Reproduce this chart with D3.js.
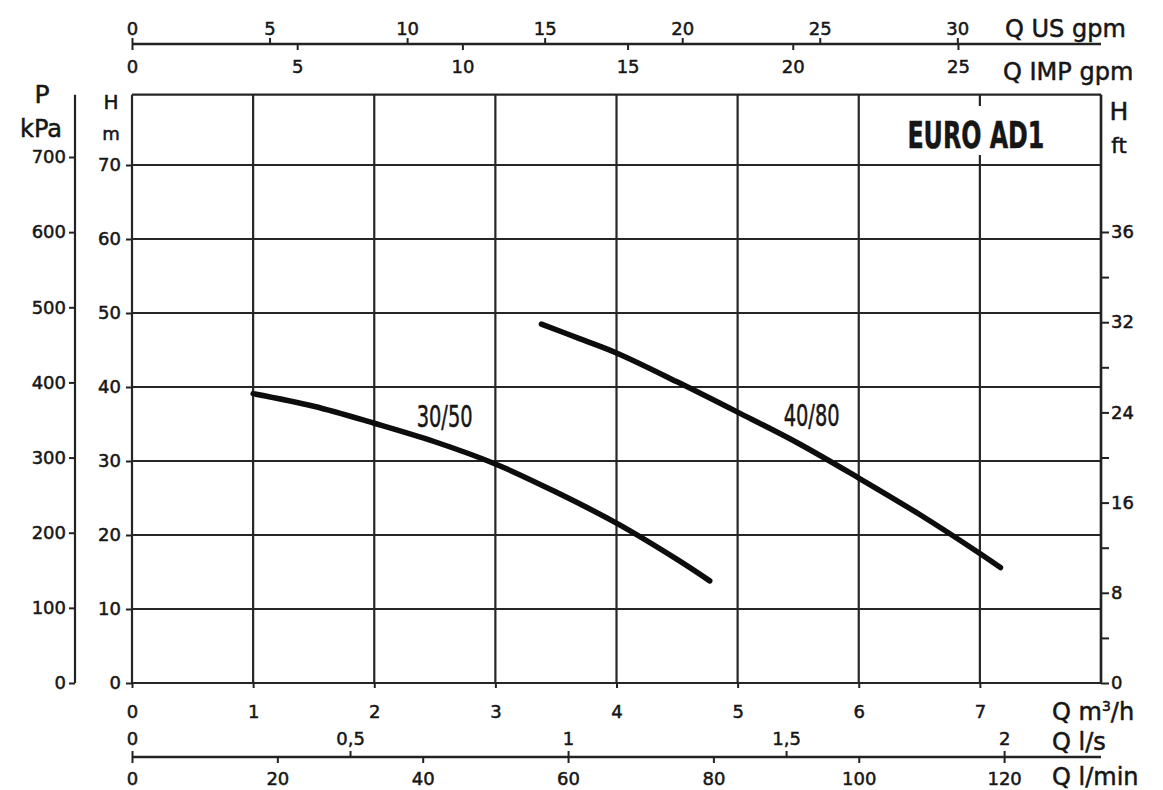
<!DOCTYPE html>
<html>
<head>
<meta charset="utf-8">
<script src="https://cdn.jsdelivr.net/npm/d3@7"></script>
<style>
  html, body { margin: 0; padding: 0; background: #fff; }
  svg { display: block; }
  text { font-family: "DejaVu Sans", sans-serif; fill: #161616; stroke: #161616; stroke-width: 0.5px; }
  .tick line { stroke: #222; stroke-width: 2; }
</style>
</head>
<body>
<div id="chart"></div>
<script>
// pump curves: flow Q (m3/h) vs head H (m)
const q3050 = [1.0, 1.5, 2.0, 2.5, 3.0, 3.5, 4.0, 4.5, 4.77];
const h3050 = [39.1, 37.4, 35.1, 32.6, 29.6, 25.8, 21.6, 16.7, 13.8];
const q4080 = [3.38, 3.7, 4.0, 4.5, 5.0, 5.5, 6.0, 6.5, 7.0, 7.17];
const h4080 = [48.5, 46.5, 44.6, 40.7, 36.6, 32.4, 27.7, 22.8, 17.5, 15.6];
const curveNames = ['30/50', '40/80'];

// tick values of every axis
const qM3hTicks = [0, 1, 2, 3, 4, 5, 6, 7];
const hMTicks = [0, 10, 20, 30, 40, 50, 60, 70];
const pKpaTicks = [0, 100, 200, 300, 400, 500, 600, 700];
const usGpmTicks = [0, 5, 10, 15, 20, 25, 30];
const impGpmTicks = [0, 5, 10, 15, 20, 25];
const lsTicks = [0, 0.5, 1, 1.5, 2];
const lminTicks = [0, 20, 40, 60, 80, 100, 120];
const ftTicks = [0, 4, 8, 12, 16, 20, 24, 28, 32, 36, 40];
const ftLabels = {0: '0', 8: '8', 16: '16', 24: '24', 32: '32', 40: '36'};

const title = 'EURO AD1';

const W = 1163, H = 790;
const svg = d3.select('#chart').append('svg')
    .attr('width', W).attr('height', H);

// main scales
const qMax = 8;
const x = d3.scaleLinear().domain([0, qMax]).range([132, 1101]);
const y = d3.scaleLinear().domain([0, 80]).range([683, 91]);
const yP = d3.scaleLinear().domain([0, 700]).range([683, 157]);
const yFt = d3.scaleLinear().domain([0, 40]).range([683, 232]);
const hTop = 79.5;

// secondary flow scales (converted from m3/h)
const xUS = d3.scaleLinear().domain([0, qMax / 0.227125]).range(x.range());
const xIMP = d3.scaleLinear().domain([0, qMax / 0.272765]).range(x.range());
const xLs = d3.scaleLinear().domain([0, qMax / 3.6]).range(x.range());
const xLmin = d3.scaleLinear().domain([0, qMax / 0.06]).range(x.range());

const gridColor = '#262626';
const fmtComma = d => String(d).replace('.', ',');

// grid
const grid = svg.append('g');
grid.selectAll('.vg').data(qM3hTicks.concat([qMax])).enter().append('line')
    .attr('x1', d => x(d)).attr('x2', d => x(d))
    .attr('y1', y(hTop)).attr('y2', y(0))
    .attr('stroke', gridColor).attr('stroke-width', 2.2);
grid.selectAll('.hg').data(hMTicks.concat([hTop])).enter().append('line')
    .attr('x1', x(0)).attr('x2', x(qMax))
    .attr('y1', d => y(d)).attr('y2', d => y(d))
    .attr('stroke', gridColor).attr('stroke-width', 2.2);

// title box
const tg = svg.append('g');
const tbox = tg.append('rect').attr('fill', '#fff');
const tt = tg.append('text')
    .attr('x', x(7) - 4).attr('y', 148)
    .attr('text-anchor', 'middle')
    .style('font-family', '"Liberation Sans Narrow", "DejaVu Sans Condensed", sans-serif')
    .style('font-weight', 'bold')
    .style('font-size', '38px')
    .attr('textLength', 137).attr('lengthAdjust', 'spacingAndGlyphs')
    .text(title);
const bb = tt.node().getBBox();
tbox.attr('x', bb.x - 8).attr('y', 106).attr('width', bb.width + 16).attr('height', 49);

// curves
const line = d3.line()
    .x(d => x(d[0])).y(d => y(d[1]))
    .curve(d3.curveCatmullRom.alpha(0.5));
const series = [d3.zip(q3050, h3050), d3.zip(q4080, h4080)];
svg.append('g').selectAll('path').data(series).enter().append('path')
    .attr('d', line)
    .attr('fill', 'none')
    .attr('stroke', '#0d0d0d')
    .attr('stroke-width', 5.5)
    .attr('stroke-linecap', 'round');

// curve labels
const labelPos = [[2.35, 34.6], [5.38, 34.7]];
svg.append('g').selectAll('text').data(curveNames).enter().append('text')
    .attr('x', (d, i) => x(labelPos[i][0]))
    .attr('y', (d, i) => y(labelPos[i][1]))
    .style('font-family', '"Liberation Sans Narrow", "DejaVu Sans Condensed", sans-serif')
    .style('font-size', '31px')
    .attr('textLength', 56).attr('lengthAdjust', 'spacingAndGlyphs')
    .text(d => d);

function styleAxis(g) {
    g.select('.domain').remove();
    g.selectAll('.tick text')
        .style('font-family', '"DejaVu Sans", sans-serif')
        .style('font-size', '18px')
        .attr('fill', '#161616');
}

// left H (m) axis
svg.append('g').attr('transform', `translate(${x(0)},0)`)
    .call(d3.axisLeft(y).tickValues(hMTicks).tickSize(6).tickPadding(5))
    .call(styleAxis);

// P (kPa) axis
svg.append('line').attr('x1', 75).attr('x2', 75)
    .attr('y1', y(hTop)).attr('y2', yP(0))
    .attr('stroke', '#222').attr('stroke-width', 2.2);
svg.append('g').attr('transform', 'translate(75,0)')
    .call(d3.axisLeft(yP).tickValues(pKpaTicks).tickSize(6).tickPadding(3))
    .call(styleAxis);

// right H (ft) axis
svg.append('g').attr('transform', `translate(${x(qMax)},0)`)
    .call(d3.axisRight(yFt).tickValues(ftTicks).tickSize(8).tickPadding(2)
        .tickFormat(d => ftLabels[d] !== undefined ? ftLabels[d] : ''))
    .call(styleAxis);
svg.append('line').attr('x1', x(qMax)).attr('x2', x(qMax))
    .attr('y1', y(hTop)).attr('y2', y(0))
    .attr('stroke', '#222').attr('stroke-width', 2.5);

// bottom Q m3/h axis
svg.append('g').attr('transform', `translate(0,${y(0)})`)
    .call(d3.axisBottom(x).tickValues(qM3hTicks).tickSize(5).tickPadding(17))
    .call(styleAxis);

// l/s and l/min axes
const yLs = 757;
svg.append('line').attr('x1', x(0)).attr('x2', x(qMax))
    .attr('y1', yLs).attr('y2', yLs)
    .attr('stroke', '#222').attr('stroke-width', 2.5);
svg.append('g').attr('transform', `translate(0,${yLs})`)
    .call(d3.axisTop(xLs).tickValues(lsTicks).tickSize(6).tickPadding(6).tickFormat(fmtComma))
    .call(styleAxis);
svg.append('g').attr('transform', `translate(0,${yLs})`)
    .call(d3.axisBottom(xLmin).tickValues(lminTicks).tickSize(6).tickPadding(9))
    .call(styleAxis);

// top US gpm and IMP gpm axes
const yTop = 44;
svg.append('line').attr('x1', x(0)).attr('x2', x(qMax))
    .attr('y1', yTop).attr('y2', yTop)
    .attr('stroke', '#222').attr('stroke-width', 2.5);
svg.append('g').attr('transform', `translate(0,${yTop})`)
    .call(d3.axisTop(xUS).tickValues(usGpmTicks).tickSize(6).tickPadding(3))
    .call(styleAxis);
svg.append('g').attr('transform', `translate(0,${yTop})`)
    .call(d3.axisBottom(xIMP).tickValues(impGpmTicks).tickSize(6).tickPadding(10))
    .call(styleAxis);

// axis titles
const titles = svg.append('g').style('font-size', '24px');
titles.append('text').attr('x', 1005).attr('y', 37).text('Q US gpm');
titles.append('text').attr('x', 1003).attr('y', 80).text('Q IMP gpm');
const qm = titles.append('text').attr('x', 1052).attr('y', 720);
qm.append('tspan').text('Q m');
qm.append('tspan').attr('dy', -9).style('font-size', '14px').text('3');
qm.append('tspan').attr('dy', 9).text('/h');
titles.append('text').attr('x', 1052).attr('y', 750).text('Q l/s');
titles.append('text').attr('x', 1052).attr('y', 785).text('Q l/min');

titles.append('text').attr('x', 42).attr('y', 103).attr('text-anchor', 'middle')
    .style('font-size', '25px').text('P');
titles.append('text').attr('x', 41).attr('y', 137).attr('text-anchor', 'middle')
    .style('font-size', '24px').text('kPa');
titles.append('text').attr('x', 111).attr('y', 109).attr('text-anchor', 'middle')
    .style('font-size', '20px').text('H');
titles.append('text').attr('x', 111).attr('y', 140).attr('text-anchor', 'middle')
    .style('font-size', '18px').text('m');
titles.append('text').attr('x', 1119).attr('y', 120).attr('text-anchor', 'middle')
    .style('font-size', '25px').text('H');
titles.append('text').attr('x', 1119).attr('y', 153).attr('text-anchor', 'middle')
    .style('font-size', '21px').text('ft');
</script>
</body>
</html>
